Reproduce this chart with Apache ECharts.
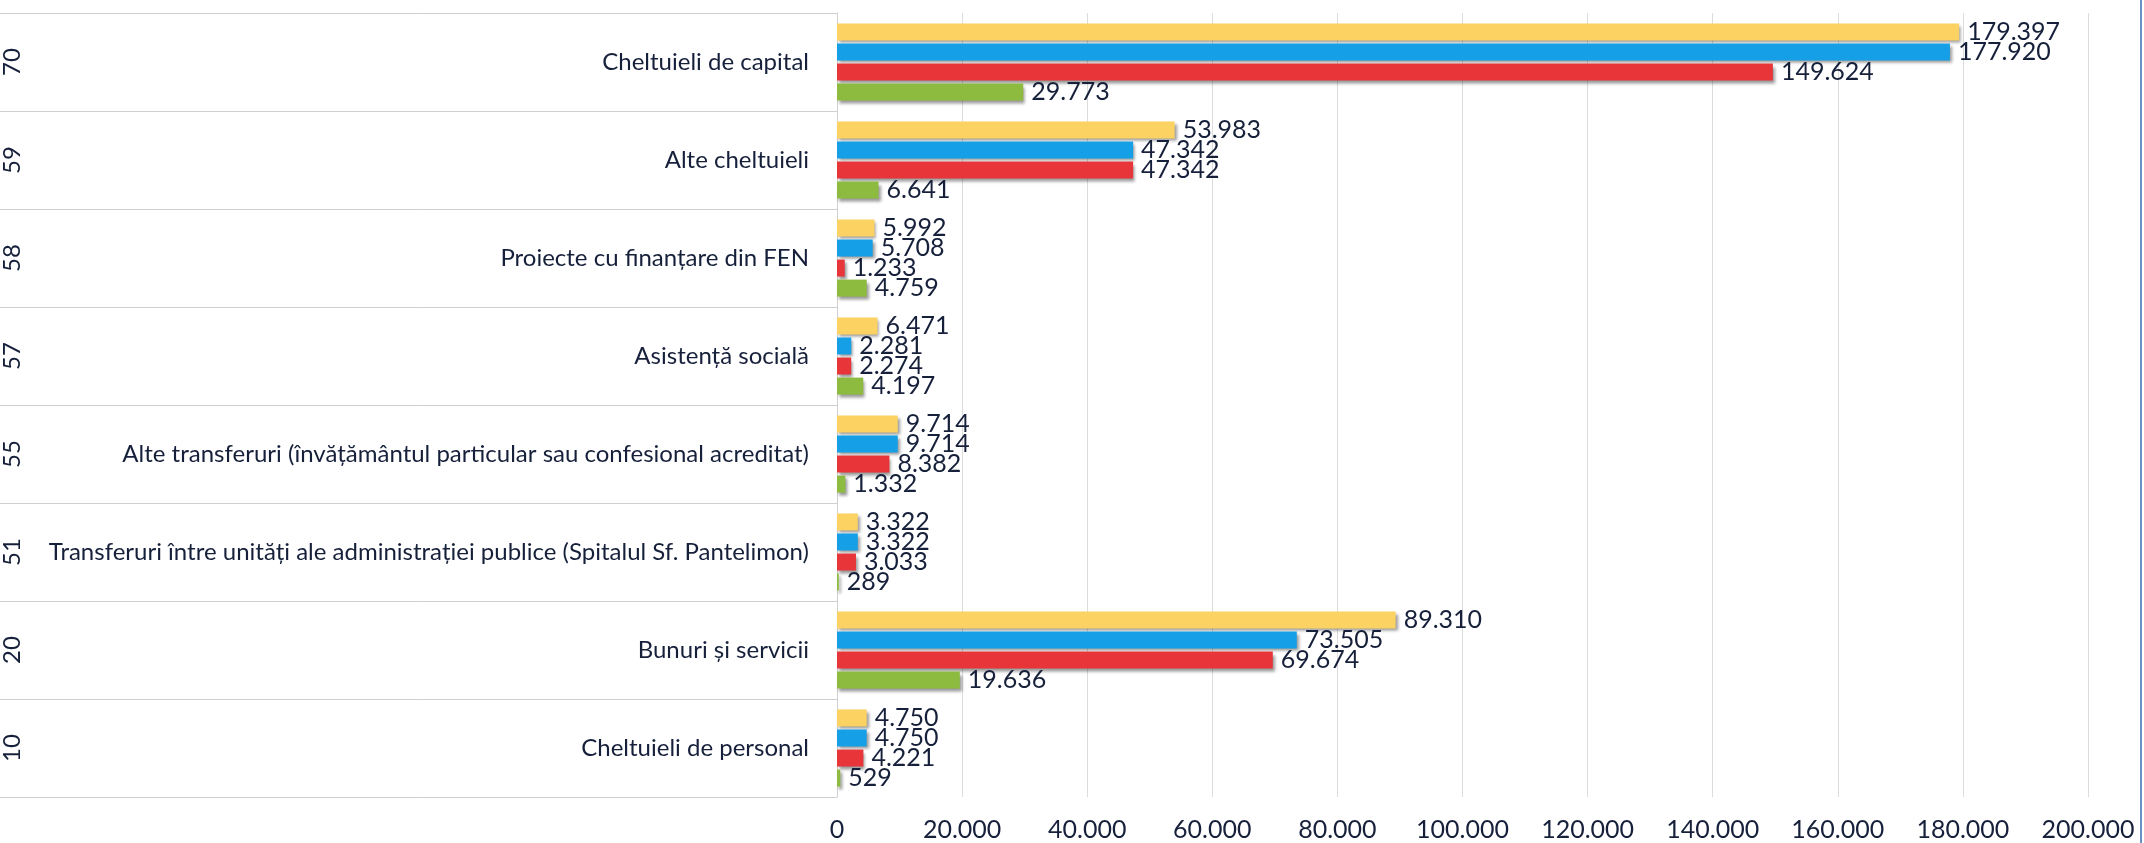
<!DOCTYPE html>
<html>
<head>
<meta charset="utf-8">
<script src="https://cdn.jsdelivr.net/npm/echarts@6/dist/echarts.min.js"></script>
<style>
html,body{margin:0;padding:0;background:#fff;}
#c{width:2144px;height:843px;}
</style>
</head>
<body>
<div id="c"></div>
<script>
// Data (top to bottom)
const codes = ['70', '59', '58', '57', '55', '51', '20', '10'];
const categories = [
  'Cheltuieli de capital',
  'Alte cheltuieli',
  'Proiecte cu finanțare din FEN',
  'Asistență socială',
  'Alte transferuri (învățământul particular sau confesional acreditat)',
  'Transferuri între unități ale administrației publice (Spitalul Sf. Pantelimon)',
  'Bunuri și servicii',
  'Cheltuieli de personal'
];
const seriesYellow = [179397, 53983, 5992, 6471, 9714, 3322, 89310, 4750];
const seriesBlue   = [177920, 47342, 5708, 2281, 9714, 3322, 73505, 4750];
const seriesRed    = [149624, 47342, 1233, 2274, 8382, 3033, 69674, 4221];
const seriesGreen  = [29773, 6641, 4759, 4197, 1332, 289, 19636, 529];
const xTicks = { min: 0, max: 200000, interval: 20000 };

const FONT = 'Lato';
const TXT = '#16203a';
function fmt(v) { return String(Math.round(v)).replace(/\B(?=(\d{3})+(?!\d))/g, '.'); }

function mk(name, data, color) {
  return {
    name: name, type: 'bar', data: data, yAxisIndex: 0,
    barWidth: 17, barGap: '18%',
    itemStyle: { color: color, shadowColor: 'rgba(0,0,0,0.4)', shadowBlur: 3, shadowOffsetX: 2, shadowOffsetY: 3 },
    label: { show: true, position: 'right', distance: 8, formatter: p => fmt(p.value),
      fontFamily: FONT, fontSize: 25, color: TXT },
    emphasis: { disabled: true }
  };
}

const chart = echarts.init(document.getElementById('c'), null, { renderer: 'canvas' });
chart.setOption({
  backgroundColor: '#fff',
  animation: false,
  grid: { left: 837, right: 56, top: 13, bottom: 46, containLabel: false },
  xAxis: {
    type: 'value', min: xTicks.min, max: xTicks.max, interval: xTicks.interval,
    axisLine: { show: false }, axisTick: { show: false },
    splitLine: { show: true, lineStyle: { color: '#dcdcdc', width: 1 } },
    axisLabel: { formatter: v => fmt(v), fontFamily: FONT, fontSize: 25, color: TXT, margin: 20 }
  },
  yAxis: [
    {
      type: 'category', data: categories, inverse: true, position: 'left',
      axisLine: { show: true, lineStyle: { color: '#d0d0d0' } },
      axisTick: { show: true, length: 837, lineStyle: { color: '#cfcfcf' } },
      axisLabel: { fontFamily: FONT, fontSize: 24, color: TXT, margin: 28 },
      splitLine: { show: false }
    },
    {
      type: 'category', data: codes, inverse: true, position: 'left', offset: 0,
      axisLine: { show: false }, axisTick: { show: false },
      axisLabel: { rotate: 90, margin: 825, align: 'center', verticalAlign: 'middle',
        fontFamily: FONT, fontSize: 24, color: TXT }
    }
  ],
  series: [
    mk('Seria 1', seriesYellow, '#fcd262'),
    mk('Seria 2', seriesBlue, '#149fe6'),
    mk('Seria 3', seriesRed, '#e8353a'),
    mk('Seria 4', seriesGreen, '#8dbb3f')
  ],
  graphic: [
    { type: 'rect', right: 2, top: 0, shape: { width: 2, height: 843 }, style: { fill: '#6a8fc4' }, silent: true }
  ]
});
</script>
</body>
</html>
